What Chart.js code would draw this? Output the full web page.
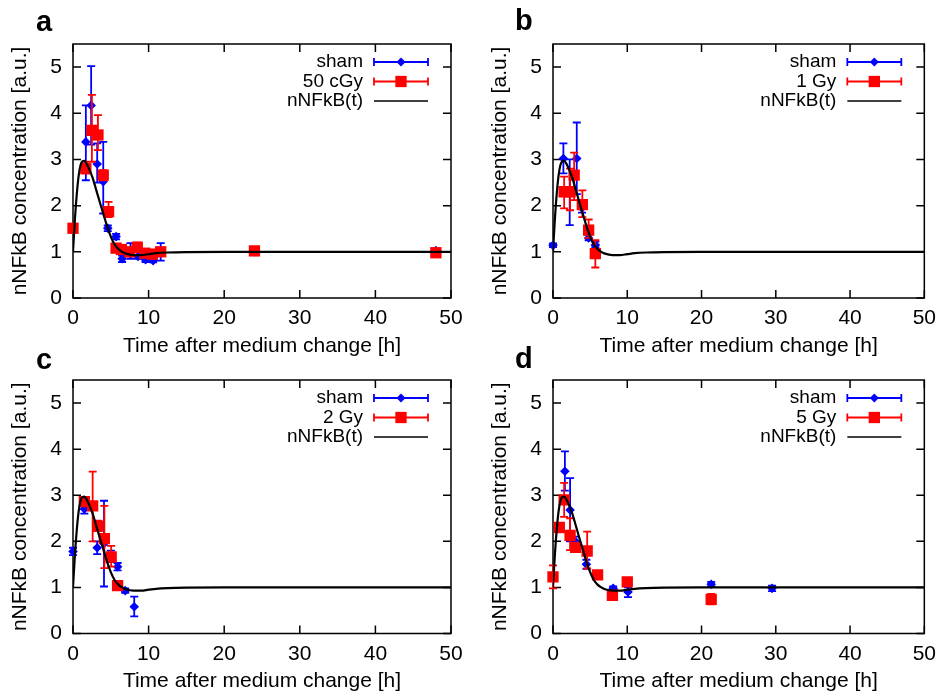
<!DOCTYPE html>
<html>
<head>
<meta charset="utf-8">
<script src="https://cdn.jsdelivr.net/npm/chart.js@4.4.1/dist/chart.umd.min.js"></script>
<style>
  body { margin: 0; background: #fff; width: 944px; height: 692px; position: relative; overflow: hidden; }
  canvas { position: absolute; }
  .letter { position: absolute; font: bold 29px "Liberation Sans", Arial, sans-serif; line-height: 29px; color: #000; }
</style>
</head>
<body>
<canvas id="panelA" width="472" height="362" style="left:0;top:0;width:472px;height:362px"></canvas>
<canvas id="panelB" width="464" height="362" style="left:480px;top:0;width:464px;height:362px"></canvas>
<canvas id="panelC" width="472" height="346" style="left:0;top:346px;width:472px;height:346px"></canvas>
<canvas id="panelD" width="464" height="346" style="left:480px;top:346px;width:464px;height:346px"></canvas>
<div class="letter" style="left:36px;top:7px">a</div>
<div class="letter" style="left:515px;top:6px">b</div>
<div class="letter" style="left:36px;top:345px">c</div>
<div class="letter" style="left:515px;top:344px">d</div>
<script>
// Model curve nNFkB(t) (same in all panels)
const curveT = [0, 0.25, 0.5, 0.75, 1.0, 1.25, 1.5, 1.8, 2.2, 2.6, 3.0, 3.5, 4.0, 4.5, 5.0, 5.5, 6.0, 6.5, 7.0, 8.0, 9.0, 10.0, 11, 12.5, 15, 20, 30, 40, 50];
const curveN = [1.0, 1.7, 2.25, 2.65, 2.88, 2.96, 2.97, 2.91, 2.77, 2.6, 2.38, 2.1, 1.83, 1.56, 1.33, 1.16, 1.06, 1.0, 0.96, 0.93, 0.93, 0.95, 0.97, 0.985, 0.995, 1.0, 1.0, 1.0, 1.0];

// Panel a: sham / 50 cGy
const tShamA  = [1.7, 2.4, 3.2, 4.0, 4.6, 5.7, 6.5, 7.6, 8.6, 9.6, 10.6, 11.6, 24, 48];
const nShamA  = [3.38, 4.17, 2.9, 2.52, 1.51, 1.33, 0.85, 0.95, 0.9, 0.83, 0.81, 1.0, 1.0, 1.03];
const loShamA = [2.55, 3.32, 2.5, 1.83, 1.45, 1.27, 0.78, 0.85, 0.85, 0.78, 0.77, 0.81, 0.96, 0.99];
const hiShamA = [4.17, 5.02, 3.35, 3.38, 1.57, 1.39, 0.92, 1.19, 1.05, 0.9, 0.86, 1.19, 1.04, 1.07];
const tDoseA  = [0, 1.7, 2.5, 3.3, 4.0, 4.7, 5.7, 6.4, 7.5, 8.5, 9.5, 10.5, 11.6, 24, 48];
const nDoseA  = [1.51, 2.8, 3.63, 3.53, 2.66, 1.87, 1.08, 1.05, 1.0, 1.1, 0.97, 0.95, 1.0, 1.02, 0.98];
const loDoseA = [1.45, 2.7, 2.95, 3.2, 2.55, 1.75, 1.02, 0.98, 0.92, 1.0, 0.9, 0.88, 0.92, 0.98, 0.94];
const hiDoseA = [1.57, 2.95, 4.4, 3.96, 2.77, 2.08, 1.14, 1.12, 1.08, 1.2, 1.04, 1.02, 1.08, 1.06, 1.02];

// Panel b: sham / 1 Gy
const tShamB  = [0, 1.4, 2.25, 3.2, 3.9, 4.8, 5.7];
const nShamB  = [1.14, 3.02, 2.3, 3.02, 1.95, 1.3, 1.15];
const loShamB = [1.1, 2.7, 1.58, 2.25, 1.85, 1.25, 1.1];
const hiShamB = [1.18, 3.35, 3.0, 3.8, 2.05, 1.37, 1.22];
const tDoseB  = [1.5, 2.3, 2.85, 3.95, 4.8, 5.7];
const nDoseB  = [2.3, 2.3, 2.66, 2.02, 1.47, 0.96];
const loDoseB = [1.94, 1.9, 2.12, 1.75, 1.3, 0.66];
const hiDoseB = [2.63, 2.8, 3.15, 2.33, 1.7, 1.25];

// Panel c: sham / 2 Gy
const tShamC  = [0, 1.5, 3.2, 4.1, 5.0, 5.9, 6.9, 8.1];
const nShamC  = [1.78, 2.7, 1.86, 1.95, 1.68, 1.45, 0.93, 0.58];
const loShamC = [1.7, 2.6, 1.72, 1.02, 1.55, 1.37, 0.88, 0.37];
const hiShamC = [1.86, 2.8, 2.0, 2.88, 1.8, 1.53, 0.98, 0.8];
const tDoseC  = [1.5, 2.6, 3.3, 4.15, 5.05, 5.9];
const nDoseC  = [2.86, 2.77, 2.33, 2.06, 1.66, 1.04];
const loDoseC = [2.78, 2.0, 2.22, 1.42, 1.45, 0.98];
const hiDoseC = [2.94, 3.51, 2.45, 2.77, 1.9, 1.1];

// Panel d: sham / 5 Gy
const tShamD  = [1.6, 2.3, 3.0, 4.5, 6.0, 8.1, 10.1, 21.3, 29.5];
const nShamD  = [3.52, 2.68, 2.0, 1.5, 1.27, 0.98, 0.9, 1.07, 0.98];
const loShamD = [3.1, 2.0, 1.9, 1.4, 1.2, 0.95, 0.79, 1.02, 0.92];
const hiShamD = [3.95, 3.37, 2.1, 1.6, 1.34, 1.02, 1.0, 1.12, 1.04];
const tDoseD  = [0, 0.85, 1.5, 2.3, 3.05, 4.6, 6.0, 8.0, 10.0, 21.3];
const nDoseD  = [1.23, 2.3, 2.9, 2.13, 1.87, 1.79, 1.27, 0.83, 1.12, 0.74];
const loDoseD = [0.98, 2.25, 2.53, 1.81, 1.8, 1.41, 1.2, 0.78, 1.06, 0.63];
const hiDoseD = [1.48, 2.35, 3.27, 2.5, 1.94, 2.21, 1.34, 0.88, 1.18, 0.86];

const doseLabels = ['50 cGy', '1 Gy', '2 Gy', '5 Gy'];

const FONT = '"Liberation Sans", Arial, Helvetica, sans-serif';
const BLUE = '#0000ff';
const RED = '#ff0000';
Chart.defaults.font.family = FONT;
Chart.defaults.color = '#000';

function pts(t, n) {
    return t.map((x, i) => ({ x: x, y: n[i] }));
}

// vertical error bars, drawn just below each dataset's markers
const errorBars = {
    id: 'errorBars',
    beforeDatasetDraw(chart, args) {
        const ds = chart.data.datasets[args.index];
        if (!ds.errLo) return;
        const { ctx, chartArea: a, scales: { x, y } } = chart;
        ctx.save();
        ctx.beginPath();
        ctx.rect(a.left - 6, a.top, a.right - a.left + 12, a.bottom - a.top);
        ctx.clip();
        ctx.strokeStyle = ds.borderColor;
        ctx.lineWidth = 1.8;
        ctx.beginPath();
        ds.data.forEach((p, i) => {
            const px = x.getPixelForValue(p.x);
            const y1 = y.getPixelForValue(ds.errLo[i]);
            const y2 = y.getPixelForValue(ds.errHi[i]);
            ctx.moveTo(px, y1); ctx.lineTo(px, y2);
            ctx.moveTo(px - 4, y1); ctx.lineTo(px + 4, y1);
            ctx.moveTo(px - 4, y2); ctx.lineTo(px + 4, y2);
        });
        ctx.stroke();
        ctx.restore();
    }
};

// gnuplot style border with inward mirrored ticks
const gnuFrame = {
    id: 'gnuFrame',
    beforeDatasetsDraw(chart) {
        const { ctx, chartArea: a, scales: { x, y } } = chart;
        ctx.save();
        ctx.strokeStyle = '#000';
        ctx.lineWidth = 1.5;
        ctx.strokeRect(a.left, a.top, a.right - a.left, a.bottom - a.top);
        ctx.beginPath();
        x.ticks.forEach(t => {
            const px = x.getPixelForValue(t.value);
            ctx.moveTo(px, a.bottom); ctx.lineTo(px, a.bottom - 8);
            ctx.moveTo(px, a.top); ctx.lineTo(px, a.top + 8);
        });
        y.ticks.forEach(t => {
            const py = y.getPixelForValue(t.value);
            ctx.moveTo(a.left, py); ctx.lineTo(a.left + 8, py);
            ctx.moveTo(a.right, py); ctx.lineTo(a.right - 8, py);
        });
        ctx.stroke();
        ctx.restore();
    }
};

function drawMarker(ctx, style, cx, cy, r) {
    ctx.beginPath();
    if (style === 'rect') {
        const s = r * Math.SQRT1_2;
        ctx.rect(cx - s, cy - s, 2 * s, 2 * s);
    } else {
        ctx.moveTo(cx - r, cy); ctx.lineTo(cx, cy - r);
        ctx.lineTo(cx + r, cy); ctx.lineTo(cx, cy + r);
        ctx.closePath();
    }
    ctx.fill();
}

// key in the top right corner: label, then sample
const gnuKey = {
    id: 'gnuKey',
    afterDraw(chart, args, opts) {
        const { ctx, chartArea: a } = chart;
        ctx.save();
        ctx.font = '19px ' + FONT;
        ctx.textAlign = 'right';
        ctx.textBaseline = 'middle';
        opts.rows.forEach((r, i) => {
            const y = a.top + 18 + i * 19.5;
            const x1 = a.right - 77, x2 = a.right - 23;
            ctx.fillStyle = '#000';
            ctx.fillText(r.text, a.right - 88, y);
            ctx.strokeStyle = r.color;
            ctx.lineWidth = r.marker ? 1.8 : 1.5;
            ctx.beginPath();
            ctx.moveTo(x1, y); ctx.lineTo(x2, y);
            if (r.marker) {
                ctx.moveTo(x1, y - 4); ctx.lineTo(x1, y + 4);
                ctx.moveTo(x2, y - 4); ctx.lineTo(x2, y + 4);
            }
            ctx.stroke();
            if (r.marker) {
                ctx.fillStyle = r.color;
                drawMarker(ctx, r.marker, (x1 + x2) / 2, y, r.radius);
            }
        });
        ctx.restore();
    }
};

function makePanel(id, dose, sham, doseSet, box) {
    const ctx = document.getElementById(id).getContext('2d');
    new Chart(ctx, {
        type: 'scatter',
        data: {
            datasets: [
                {
                    type: 'line',
                    label: 'nNFkB(t)',
                    data: pts(curveT, curveN),
                    borderColor: '#000',
                    borderWidth: 2.2,
                    pointRadius: 0,
                    fill: false,
                    cubicInterpolationMode: 'monotone'
                },
                {
                    label: dose,
                    data: pts(doseSet[0], doseSet[1]),
                    errLo: doseSet[2],
                    errHi: doseSet[3],
                    borderColor: RED,
                    backgroundColor: RED,
                    pointStyle: 'rect',
                    pointRadius: 8,
                    pointBorderWidth: 0,
                    clip: 8
                },
                {
                    label: 'sham',
                    data: pts(sham[0], sham[1]),
                    errLo: sham[2],
                    errHi: sham[3],
                    borderColor: BLUE,
                    backgroundColor: BLUE,
                    pointStyle: 'rectRot',
                    pointRadius: 4.8,
                    pointBorderWidth: 0,
                    clip: 8
                }
            ]
        },
        options: {
            responsive: false,
            animation: false,
            events: [],
            layout: { padding: { top: box.top, right: box.right, left: 0, bottom: 0 } },
            plugins: {
                legend: { display: false },
                tooltip: { enabled: false },
                gnuKey: {
                    rows: [
                        { text: 'sham', color: BLUE, marker: 'rectRot', radius: 4.5 },
                        { text: dose, color: RED, marker: 'rect', radius: 8 },
                        { text: 'nNFkB(t)', color: '#000', marker: null }
                    ]
                }
            },
            scales: {
                x: {
                    type: 'linear',
                    min: 0,
                    max: 50,
                    afterFit: s => { s.height = box.axisH; },
                    grid: { display: false, drawTicks: false },
                    border: { display: false },
                    ticks: { stepSize: 10, padding: 8, maxRotation: 0, font: { size: 21 }, color: '#000' },
                    title: {
                        display: true,
                        text: 'Time after medium change [h]',
                        color: '#000',
                        font: { size: 21, lineHeight: 1 },
                        padding: { top: 0, bottom: box.titleB }
                    }
                },
                y: {
                    min: 0,
                    max: 5.5,
                    afterFit: s => { s.width = 73; },
                    grid: { display: false, drawTicks: false },
                    border: { display: false },
                    ticks: { stepSize: 1, includeBounds: false, padding: 11, font: { size: 21 }, color: '#000' },
                    title: {
                        display: true,
                        text: 'nNFkB concentration [a.u.]',
                        color: '#000',
                        font: { size: 21, lineHeight: 1 },
                        padding: { top: 9.5, bottom: 0 }
                    }
                }
            }
        },
        plugins: [gnuFrame, errorBars, gnuKey]
    });
}

const topBox = { top: 44, axisH: 64, titleB: 5.5 };
const botBox = { top: 34, axisH: 58.5, titleB: 0 };

makePanel('panelA', doseLabels[0], [tShamA, nShamA, loShamA, hiShamA], [tDoseA, nDoseA, loDoseA, hiDoseA], Object.assign({ right: 21 }, topBox));
makePanel('panelB', doseLabels[1], [tShamB, nShamB, loShamB, hiShamB], [tDoseB, nDoseB, loDoseB, hiDoseB], Object.assign({ right: 13 }, topBox));
makePanel('panelC', doseLabels[2], [tShamC, nShamC, loShamC, hiShamC], [tDoseC, nDoseC, loDoseC, hiDoseC], Object.assign({ right: 21 }, botBox));
makePanel('panelD', doseLabels[3], [tShamD, nShamD, loShamD, hiShamD], [tDoseD, nDoseD, loDoseD, hiDoseD], Object.assign({ right: 13 }, botBox));
</script>
</body>
</html>
